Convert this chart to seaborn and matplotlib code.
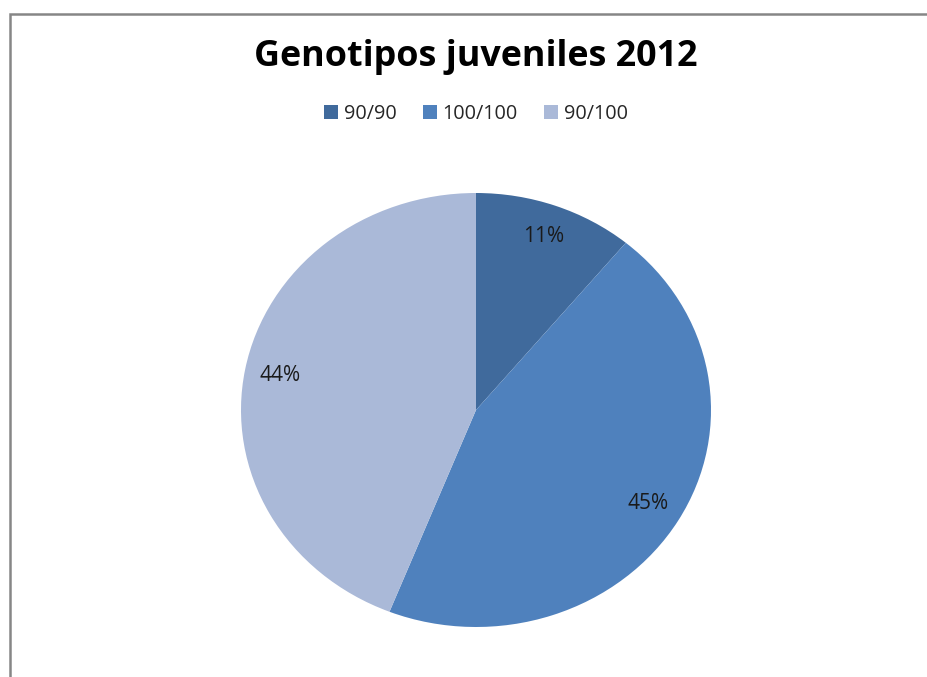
import matplotlib
matplotlib.use("Agg")
import matplotlib.pyplot as plt
import matplotlib.patches as mpatches
import seaborn as sns

# datos del grafico
genotipos = ['90/90', '100/100', '90/100']
porcentajes = [11, 45, 44]
colores = ['#406A9C', '#4F81BD', '#AAB9D8']

sns.set_style("white")
plt.rcParams['font.family'] = ['Open Sans', 'DejaVu Sans']

fig = plt.figure(figsize=(9.27, 6.77), dpi=100)
W, H = 927, 677

# pie area (slightly elliptical like the original)
cx, cy, rx, ry = 476, 410, 235, 217
ax = fig.add_axes([(cx - rx) / W, (H - cy - ry) / H, 2 * rx / W, 2 * ry / H])
wedges, texts, autotexts = ax.pie(porcentajes, colors=colores, startangle=90,
                                  counterclock=False, autopct='%1.0f%%',
                                  pctdistance=0.85,
                                  textprops={'fontsize': 15, 'color': '#1a1a1a'},
                                  wedgeprops={'linewidth': 0})
ax.set_aspect('auto')
ax.set_xlim(-1, 1)
ax.set_ylim(-1, 1)
ax.axis('off')

fig.text(cx / W, 1 - 57 / H, 'Genotipos juveniles 2012', ha='center', va='center',
         fontsize=25.8, fontweight='bold', color='black')

fig.legend(wedges, genotipos, loc='center', bbox_to_anchor=(cx / W, 1 - 114 / H),
           ncol=3, frameon=False, fontsize=14.3, handlelength=0.7, handleheight=0.7,
           handletextpad=0.3, columnspacing=1.3)

# chart area border (only left and top visible)
fig.add_artist(mpatches.Rectangle((9.5 / W, -0.1), 1.2, (H - 14) / H + 0.1,
                                  transform=fig.transFigure, fill=False,
                                  edgecolor='#868686', linewidth=1.8))

fig.savefig('out.png', dpi=100)
